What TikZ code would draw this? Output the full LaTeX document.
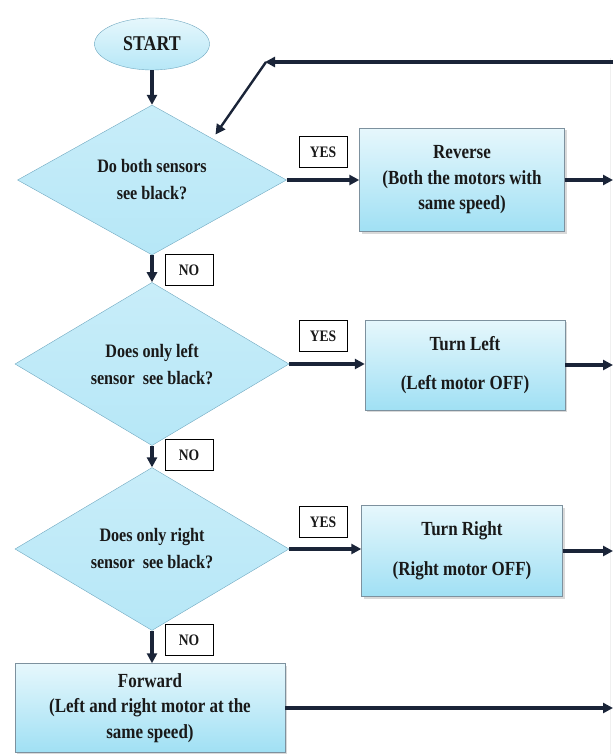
\documentclass[tikz,border=0pt]{standalone}
\usepackage{fontspec}
\setmainfont[FakeStretch=0.85]{Liberation Serif}
\usetikzlibrary{shapes.geometric, arrows.meta, calc, shadows, shadings}
\definecolor{flowline}{RGB}{26, 36, 56}
\definecolor{flowedge}{RGB}{112, 168, 192}
\definecolor{flowgray}{RGB}{125, 145, 158}
\definecolor{flowtop}{RGB}{230, 247, 252}
\definecolor{flowbot}{RGB}{160, 224, 244}
\definecolor{flowdiam}{RGB}{182, 231, 247}

\begin{document}
\begin{tikzpicture}[x=1pt, y=-1pt,
    decision/.style={diamond, draw=flowedge, thin, top color=flowdiam!75!white, bottom color=flowdiam,
      minimum width=274pt, minimum height=141pt, inner sep=0pt, align=center, text=black!90,
      font=\bfseries\fontsize{19}{27}\selectfont},
    action/.style={rectangle, draw=flowgray, thin, top color=flowtop, bottom color=flowbot,
      drop shadow={shadow xshift=2pt, shadow yshift=-2pt, opacity=0.3},
      inner sep=0pt, align=center, text=black!90, font=\bfseries\fontsize{20}{25.5}\selectfont},
    tag/.style={draw=black, thin, fill=white, minimum width=48pt, minimum height=31pt,
      inner sep=0pt, text=black!90, font=\bfseries\fontsize{16}{16}\selectfont},
    flow/.style={draw=flowline, line width=3.4pt, -{Triangle[length=10pt,width=10pt]}}]
			\useasboundingbox (0,0) rectangle (613,754);

			% Faint edge on the right
			\draw[gray!12, line width=0.8pt] (610,58) -- (610,754);

			% Start and the three questions
			\node[ellipse, draw=flowedge, thin, top color=flowtop, bottom color=flowdiam,
			  minimum width=115pt, minimum height=52pt, text=black!90,
			  font=\bfseries\fontsize{21}{21}\selectfont] (start) at (152,44) {START};
			\node[decision, minimum width=269pt, minimum height=136pt] (qboth) at (152,180) {Do both sensors\\see black?};
			\node[decision] (qleft) at (152,364) {Does only left\\sensor~ see black?};
			\node[decision] (qright) at (152,549) {Does only right\\sensor~ see black?};

			% Actions
			\node[action, minimum width=205pt, minimum height=103pt] (reverse) at (462,180) {Reverse\\(Both the motors with\\same speed)};
			\node[action, minimum width=200pt, minimum height=90pt] (tleft) at (465,365) {Turn Left\\[14pt](Left motor OFF)};
			\node[action, minimum width=201pt, minimum height=91pt] (tright) at (462,551) {Turn Right\\[14pt](Right motor OFF)};
			\node[action, minimum width=270pt, minimum height=89pt] (forward) at (150,708) {Forward\\(Left and right motor at the\\same speed)};

			% YES / NO labels
			\foreach \i/\y in {1/152, 2/336, 3/522}
				\node[tag] (yes\i) at (323,\y) {YES};
			\foreach \i/\y in {1/270, 2/455, 3/640}
				\node[tag] (no\i) at (189,\y) {NO};

			% Ends on the right and the way back
			\coordinate (out1) at (613,180);
			\coordinate (out2) at (613,365);
			\coordinate (out3) at (613,551);
			\coordinate (out4) at (613,708);
			\coordinate (back) at (613,62);
			\coordinate (bend) at (265,62);

			% Draw Flow
			\draw[flow] (start) -- (qboth);
			\draw[flow] (qboth) -- (qleft);
			\draw[flow] (qleft) -- (qright);
			\draw[flow] (qright.south) -- (qright.south |- forward.north);
			\draw[flow] (qboth) -- (reverse);
			\draw[flow] (qleft.east) -- (qleft.east -| tleft.west);
			\draw[flow] (qright.east) -- (qright.east -| tright.west);
			\draw[flow] (reverse) -- (out1);
			\draw[flow] (tleft) -- (out2);
			\draw[flow] (tright) -- (out3);
			\draw[flow] (forward) -- (out4);
			\draw[flow] (back) -- (bend);
			\draw[flow, line width=2.4pt, shorten >=5pt] ($(bend)+(1,0)$) -- ($(qboth.north)!0.45!(qboth.east)$);

		\end{tikzpicture}
\end{document}
